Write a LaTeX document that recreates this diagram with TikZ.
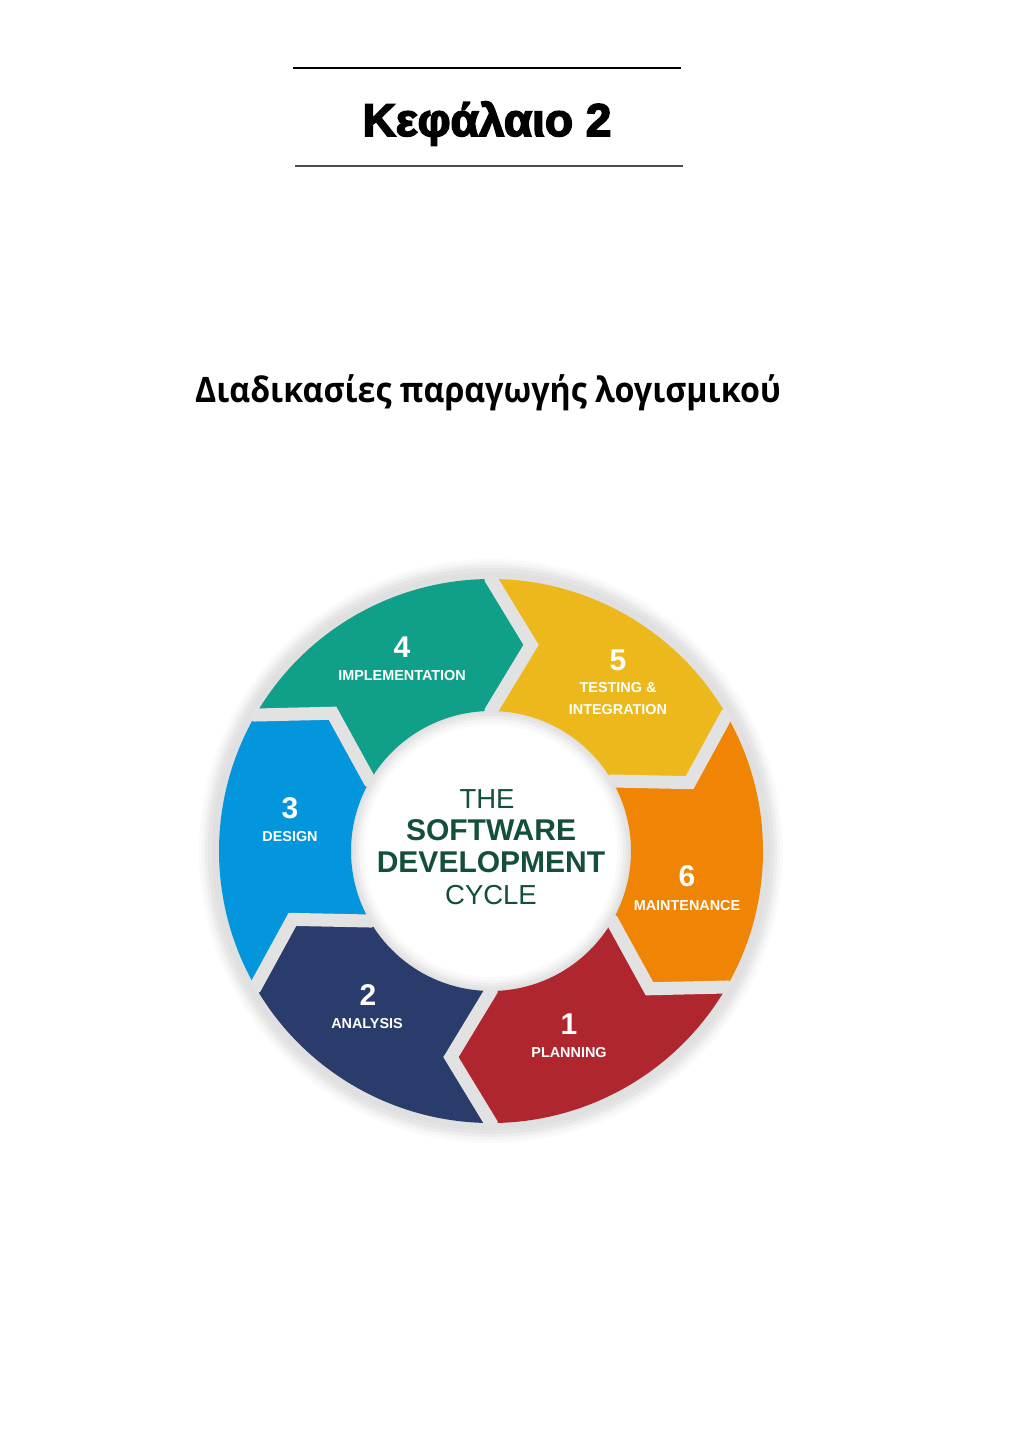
\documentclass[tikz,border=0pt]{standalone}
\usepackage{fontspec}
\setmainfont{Liberation Sans}
\newfontfamily\headfont{Liberation Sans}[BoldFeatures={FakeBold=3.5}]
\newfontfamily\subfont{Open Sans}[BoldFeatures={FakeStretch=0.92}]
\newfontfamily\ringfont{Liberation Sans}
\definecolor{cteal}{RGB}{16,160,138}
\definecolor{cyellow}{RGB}{236,184,28}
\definecolor{corange}{RGB}{239,132,5}
\definecolor{cred}{RGB}{176,38,46}
\definecolor{cnavy}{RGB}{42,60,107}
\definecolor{cblue}{RGB}{3,150,220}
\definecolor{cgreen}{RGB}{20,78,60}
\definecolor{cgap}{RGB}{226,226,226}
\tikzset{
  numtxt/.style={inner sep=0pt, text=white, font=\ringfont\bfseries\fontsize{30}{30}\selectfont},
  labtxt/.style={inner sep=0pt, text=white, font=\ringfont\bfseries\fontsize{14.4}{15}\selectfont},
  ctrreg/.style={inner sep=0pt, text=cgreen, font=\ringfont\fontsize{27.5}{28}\selectfont},
  ctrbold/.style={inner sep=0pt, text=cgreen, font=\ringfont\bfseries\fontsize{30}{30}\selectfont},
  gapline/.style={draw=cgap, line width=13pt, line join=miter, miter limit=10},
}
\begin{document}
\begin{tikzpicture}[x=1pt,y=1pt]
\useasboundingbox (0,0) rectangle (1024,-1448);
\fill[white] (0,0) rectangle (1024,-1448);
% header
\draw[line width=1.4pt] (293,-68) -- (681,-68);
\draw[line width=1.4pt, black!70] (295,-166) -- (683,-166);
\node[anchor=base, inner sep=0pt, font=\headfont\bfseries\fontsize{46}{46}\selectfont] (head) at (487,-136) {Κεφάλαιο 2};
\node[anchor=base, inner sep=0pt, font=\subfont\bfseries\fontsize{35}{35}\selectfont] (sub) at (488,-402) {Διαδικασίες παραγωγής λογισμικού};
% ring
\def\Ro{272}\def\Ri{140}\def\Rm{210}\def\dl{11}
\begin{scope}[shift={(491,-851)}]
  \foreach \r/\c in {292/2, 289/4, 286/7, 283/10, 279/12}
    \fill[black!\c] (0,0) circle[radius=\r pt];
  \foreach \a/\col in {150/cteal, 90/cyellow, 30/corange, -30/cred, -90/cnavy, -150/cblue}{
    \pgfmathsetmacro\f{\a-60}
    \pgfmathsetmacro\am{\a-\dl}
    \pgfmathsetmacro\fm{\a-60-\dl}
    \fill[\col] (\a:\Ro pt) -- (\am:\Rm pt) -- (\a:\Ri pt)
      arc[start angle=\a, end angle=\f, radius=\Ri pt]
      -- (\fm:\Rm pt) -- (\f:\Ro pt)
      arc[start angle=\f, end angle=\a, radius=\Ro pt] -- cycle;
  }
  \begin{scope}
    \clip (0,0) circle[radius=\Ro pt+3pt];
    \foreach \a in {150, 90, 30, -30, -90, -150}{
      \pgfmathsetmacro\am{\a-\dl}
      \draw[gapline] (\a:\Ro pt+20pt) -- (\a:\Ro pt) -- (\am:\Rm pt) -- (\a:\Ri pt) -- (\a:\Ri pt-20pt);
    }
  \end{scope}
  \foreach \r/\c in {138/10, 135/7, 132/4, 129/2}
    \fill[black!\c] (0,0) circle[radius=\r pt];
  \fill[white] (0,0) circle[radius=126pt];
\end{scope}
% center text
\node[ctrreg] (the) at (487,-799) {THE};
\node[ctrbold] (soft) at (491,-830) {SOFTWARE};
\node[ctrbold] (dev) at (491,-862) {DEVELOPMENT};
\node[ctrreg] (cyc) at (491,-895) {CYCLE};
% segment labels
\node[numtxt] (n4) at (402,-647) {4};
\node[labtxt] (l4) at (402,-676) {IMPLEMENTATION};
\node[numtxt] (n5) at (618,-660) {5};
\node[labtxt] (l5a) at (618,-688) {TESTING \&};
\node[labtxt] (l5b) at (618,-710) {INTEGRATION};
\node[numtxt] (n3) at (290,-808) {3};
\node[labtxt] (l3) at (290,-837) {DESIGN};
\node[numtxt] (n6) at (687,-876) {6};
\node[labtxt] (l6) at (687,-906) {MAINTENANCE};
\node[numtxt] (n2) at (368,-995) {2};
\node[labtxt] (l2) at (367,-1024) {ANALYSIS};
\node[numtxt] (n1) at (569,-1024) {1};
\node[labtxt] (l1) at (569,-1053) {PLANNING};
\end{tikzpicture}
\end{document}
